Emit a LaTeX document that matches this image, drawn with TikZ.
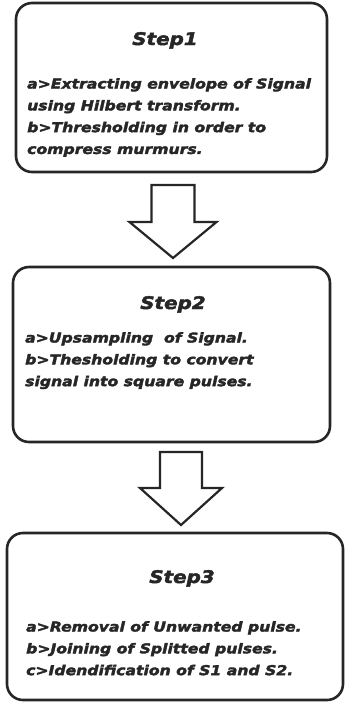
\documentclass[tikz,border=0pt]{standalone}
\usepackage{fontspec}
\usetikzlibrary{calc}
\newfontfamily\heavyfont{DejaVu Sans}[BoldItalicFeatures={FakeStretch=1.15, FakeBold=2.6}]
\definecolor{ink}{HTML}{262626}
\tikzset{
  stepbox/.style={draw=ink, line width=2.6pt, rounded corners=16pt, inner sep=0pt},
  steptitle/.style={font=\heavyfont\bfseries\itshape\fontsize{17.3}{20}\selectfont, text=ink, inner sep=0pt, anchor=base},
  stepbody/.style={font=\heavyfont\bfseries\itshape\fontsize{13.6}{21.8}\selectfont, text=ink, inner sep=0pt, align=left, anchor=north west},
  blockarrow/.style={draw=ink, line width=2.2pt, fill=white, line join=miter}
}
\begin{document}
\begin{tikzpicture}[x=1pt,y=-1pt]
\useasboundingbox (0,0) rectangle (346,702);

% three rounded step boxes
\node[stepbox, minimum width=311pt, minimum height=169pt] (s1) at (171.5,87.5) {};
\node[stepbox, minimum width=317pt, minimum height=175pt] (s2) at (171.5,354.5) {};
\node[stepbox, minimum width=336pt, minimum height=167pt] (s3) at (175,616.5) {};

% titles
\node[steptitle] (t1) at (165,45) {Step1};
\node[steptitle] (t2) at (173,309) {Step2};
\node[steptitle] (t3) at (182,583) {Step3};

% descriptions
\node[stepbody] (d1) at (27,78) {a>Extracting envelope of Signal\\using Hilbert transform.\\b>Thresholding in order to\\compress murmurs.};
\node[stepbody] (d2) at (25,332) {a>Upsampling\ \ of Signal.\\b>Thesholding to convert\\signal into square pulses.};
\node[stepbody] (d3) at (26,621) {a>Removal of Unwanted pulse.\\b>Joining of Splitted pulses.\\c>Idendification of S1 and S2.};

% hollow block arrows between the boxes
\coordinate (a1top) at (173,185);
\coordinate (a1tip) at (173,258);
\draw[blockarrow] ($(a1top)+(-21.5,0)$) -- ($(a1top)+(21.5,0)$) -- ($(a1top)+(21.5,37)$)
  -- ($(a1top)+(43.5,37)$) -- (a1tip) -- ($(a1top)+(-43.5,37)$) -- ($(a1top)+(-21.5,37)$) -- cycle;
\coordinate (a2top) at (181,452);
\coordinate (a2tip) at (181,525);
\draw[blockarrow] ($(a2top)+(-21,0)$) -- ($(a2top)+(21,0)$) -- ($(a2top)+(21,36)$)
  -- ($(a2top)+(41,36)$) -- (a2tip) -- ($(a2top)+(-41,36)$) -- ($(a2top)+(-21,36)$) -- cycle;
\end{tikzpicture}
\end{document}
